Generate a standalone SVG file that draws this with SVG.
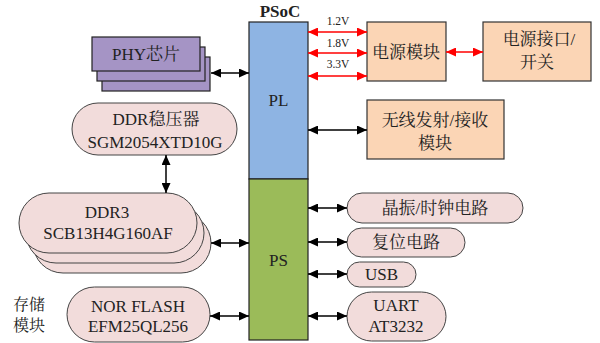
<svg xmlns="http://www.w3.org/2000/svg" width="600" height="343" viewBox="0 0 600 343">
<defs>
<marker id="ab" markerUnits="userSpaceOnUse" markerWidth="10" markerHeight="9" refX="10" refY="4.5" orient="auto-start-reverse"><path d="M0,0 L10,4.5 L0,9 z" fill="#000"/></marker>
<marker id="ar" markerUnits="userSpaceOnUse" markerWidth="10" markerHeight="9" refX="10" refY="4.5" orient="auto-start-reverse"><path d="M0,0 L10,4.5 L0,9 z" fill="#ff0000"/></marker>
<style>
text{font-family:"Liberation Serif","Noto Serif CJK SC","Noto Sans CJK SC",serif;font-size:17px;fill:#222;text-anchor:middle}
.sm{font-size:11.5px}
.b{font-weight:bold}
.pill{fill:#f2dcdb;stroke:#444;stroke-width:1}
.peach{fill:#fbd5b5;stroke:#333;stroke-width:1.2}
.purp{fill:#a594c5;stroke:#222;stroke-width:1.2}
.k{stroke:#000;stroke-width:1.5;fill:none;marker-start:url(#ab);marker-end:url(#ab)}
.r{stroke:#ff0000;stroke-width:1.6;fill:none;marker-start:url(#ar);marker-end:url(#ar)}
</style>
</defs>
<rect width="600" height="343" fill="#fff"/>

<g id="psoc">
<text x="280" y="17" class="b">PSoC</text>
</g>
<g id="pl">
<rect x="249" y="22" width="59" height="157" fill="#8eb4e3" stroke="#222" stroke-width="1.2"/>
<text x="278.5" y="106">PL</text>
</g>
<g id="ps">
<rect x="249" y="179" width="59" height="161" fill="#9bbb59" stroke="#222" stroke-width="1.2"/>
<text x="278.5" y="266">PS</text>
</g>

<g id="phy">
<rect class="purp" x="102" y="57" width="108" height="34"/>
<rect class="purp" x="97" y="47" width="108" height="34"/>
<rect class="purp" x="92" y="37" width="108" height="34"/>
<text x="146" y="60">PHY芯片</text>
</g>

<g id="ddrreg">
<rect class="pill" x="72" y="103" width="165" height="52" rx="26"/>
<text x="156" y="125">DDR稳压器</text>
<text x="155" y="148">SGM2054XTD10G</text>
</g>

<g id="ddr3">
<rect class="pill" x="33" y="213" width="178" height="60" rx="30"/>
<rect class="pill" x="26" y="203" width="178" height="60" rx="30"/>
<rect class="pill" x="19" y="193" width="178" height="60" rx="30"/>
<text x="107" y="218">DDR3</text>
<text x="108" y="239">SCB13H4G160AF</text>
</g>

<g id="nor">
<rect class="pill" x="67" y="287" width="143" height="55" rx="27.5"/>
<text x="138" y="312">NOR FLASH</text>
<text x="138" y="332">EFM25QL256</text>
</g>

<g id="storage">
<text x="29" y="310" style="font-size:16px">存储</text>
<text x="29" y="331" style="font-size:16px">模块</text>
</g>

<g id="power">
<rect class="peach" x="367" y="22" width="79" height="59"/>
<text x="406" y="58">电源模块</text>
</g>
<g id="powerif">
<rect class="peach" x="483" y="22" width="108" height="59"/>
<text x="539" y="45">电源接口/</text>
<text x="537" y="68">开关</text>
</g>
<g id="wireless">
<rect class="peach" x="367" y="100" width="137" height="59"/>
<text x="435" y="126">无线发射/接收</text>
<text x="435" y="149">模块</text>
</g>

<g id="clock">
<rect class="pill" x="347" y="193" width="176" height="30" rx="15"/>
<text x="435" y="214">晶振/时钟电路</text>
</g>
<g id="reset">
<rect class="pill" x="347" y="228" width="118" height="29" rx="14.5"/>
<text x="406" y="248">复位电路</text>
</g>
<g id="usb">
<rect class="pill" x="347" y="262" width="69" height="25" rx="12.5"/>
<text x="381.5" y="280">USB</text>
</g>
<g id="uart">
<rect class="pill" x="347" y="292" width="99" height="49" rx="24.5"/>
<text x="396" y="311">UART</text>
<text x="396" y="332">AT3232</text>
</g>

<g id="connectors">
<line class="k" x1="211" y1="73" x2="249" y2="73"/>
<line class="k" x1="166" y1="155" x2="166" y2="193"/>
<line class="k" x1="211" y1="243" x2="249" y2="243"/>
<line class="k" x1="210" y1="316" x2="249" y2="316"/>
<line class="r" x1="308" y1="32" x2="367" y2="32"/>
<line class="r" x1="308" y1="53" x2="367" y2="53"/>
<line class="r" x1="308" y1="76" x2="367" y2="76"/>
<line class="r" x1="446" y1="52" x2="483" y2="52"/>
<line class="k" x1="308" y1="130" x2="367" y2="130"/>
<line class="k" x1="308" y1="208" x2="347" y2="208"/>
<line class="k" x1="308" y1="242" x2="347" y2="242"/>
<line class="k" x1="308" y1="274" x2="347" y2="274"/>
<line class="k" x1="308" y1="316" x2="347" y2="316"/>
<text x="338" y="25" class="sm">1.2V</text>
<text x="338" y="47" class="sm">1.8V</text>
<text x="338" y="68" class="sm">3.3V</text>
</g>
</svg>
